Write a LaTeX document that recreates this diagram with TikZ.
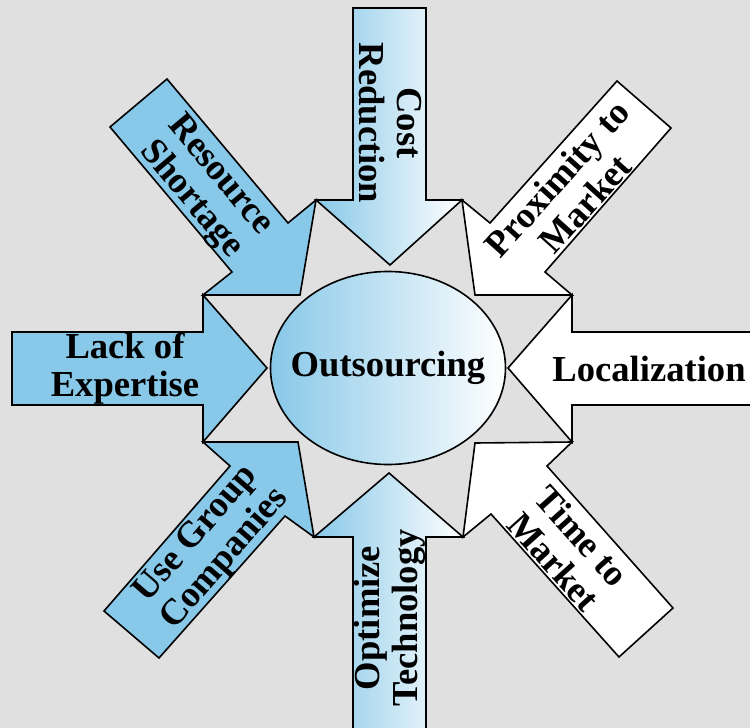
\documentclass[tikz,border=0pt]{standalone}
\usepackage{fontspec}
\setmainfont{Liberation Serif}
\usepackage{xcolor}
\usetikzlibrary{shapes.geometric}

\definecolor{skyblue}{HTML}{88C8E8}
\definecolor{backgray}{HTML}{E0E0E0}

\begin{document}
\begin{tikzpicture}[
        x=0.5pt, y=-0.5pt,
        blockarrow/.style={draw=black, line width=0.8pt, line join=miter},
        bluearrow/.style={blockarrow, fill=skyblue},
        whitearrow/.style={blockarrow, fill=white},
        fadearrow/.style={blockarrow, left color=skyblue, right color=white},
        arrowtext/.style={font=\bfseries\fontsize{18.3}{19}\selectfont, align=center, inner sep=0pt},
        hub/.style={ellipse, draw=black, line width=0.8pt, left color=skyblue, right color=white, minimum width=117.5pt, minimum height=96.5pt, inner sep=0pt, font=\bfseries\fontsize{18.3}{19}\selectfont}
    ]
        \fill[backgray] (0,0) rectangle (750,728);
        \useasboundingbox (0,0) rectangle (750,728);

        % puntos compartidos entre flechas vecinas
        \coordinate (wA) at (316,200);
        \coordinate (wB) at (462,200);
        \coordinate (wC) at (572,295);
        \coordinate (wD) at (572,442);
        \coordinate (wE) at (463,537);
        \coordinate (wF) at (314,537);
        \coordinate (wG) at (203,442);
        \coordinate (wH) at (203,295);

        \draw[fadearrow] (353,8) -- (426,8) -- (426,200) -- (wB) -- (390,265) -- (wA) -- (353,200) -- cycle;
        \draw[fadearrow] (353,745) -- (353,537) -- (wF) -- (389,473) -- (wE) -- (426,537) -- (426,745) -- cycle;
        \draw[bluearrow] (12,332) -- (203,332) -- (wH) -- (267,368) -- (wG) -- (203,405) -- (12,405) -- cycle;
        \draw[whitearrow] (770,332) -- (572,332) -- (wC) -- (508,368) -- (wD) -- (572,405) -- (770,405) -- cycle;
        \draw[bluearrow] (167,79) -- (288,223) -- (wA) -- (300,295) -- (wH) -- (232,272) -- (110,127) -- cycle;
        \draw[whitearrow] (617,81) -- (490,223) -- (wB) -- (475,295) -- (wC) -- (545,272) -- (671,128) -- cycle;
        \draw[bluearrow] (104,611) -- (230,466) -- (wG) -- (298,442) -- (wF) -- (285,516) -- (159,658) -- cycle;
        \draw[whitearrow] (619,657) -- (491,514) -- (wE) -- (475,443) -- (wD) -- (547,466) -- (673,608) -- cycle;

        \node [hub] (outsourcing) at (388,368) {\makebox[0pt][c]{Outsourcing}};

        \node [arrowtext, rotate=-90] (cost) at (390,123) {Cost\\Reduction};
        \node [arrowtext, rotate=-50] (resource) at (205,188) {Resource\\Shortage};
        \node [arrowtext, rotate=48] (proximity) at (571,191) {Proximity to\\Market};
        \node [arrowtext] (lack) at (125,369) {Lack of\\Expertise};
        \node [arrowtext] (local) at (649,369) {Localization};
        \node [arrowtext, rotate=49] (group) at (211,547) {Use Group\\Companies};
        \node [arrowtext, rotate=-48] (time) at (568,549) {Time to\\Market};
        \node [arrowtext, rotate=90] (optimize) at (390,618) {Optimize\\Technology};
    \end{tikzpicture}
\end{document}
